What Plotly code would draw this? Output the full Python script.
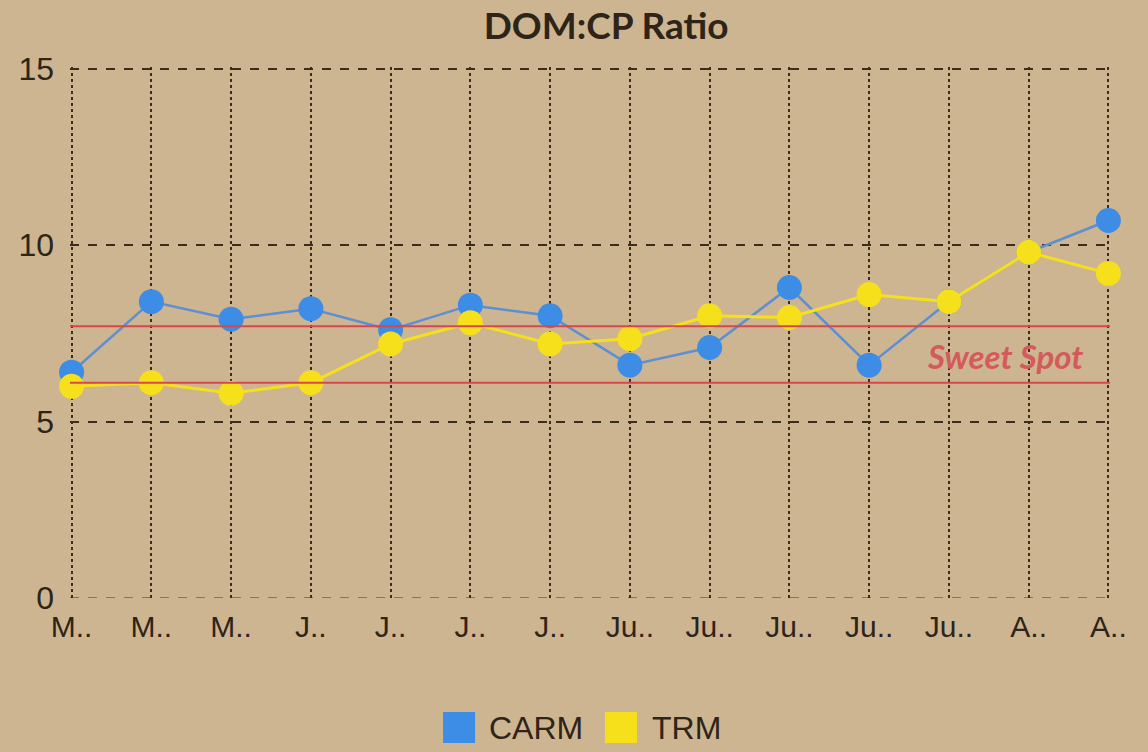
import plotly.graph_objects as go

# Dati
x_labels = ["M..", "M..", "M..", "J..", "J..", "J..", "J..",
            "Ju..", "Ju..", "Ju..", "Ju..", "Ju..", "A..", "A.."]
x_pos = list(range(len(x_labels)))

series_names = ["CARM", "TRM"]
carm = [6.4, 8.4, 7.9, 8.2, 7.6, 8.3, 8.0, 6.6, 7.1, 8.8, 6.6, 8.4, 9.8, 10.7]
trm = [6.0, 6.1, 5.8, 6.1, 7.2, 7.8, 7.2, 7.35, 8.0, 7.95, 8.6, 8.4, 9.8, 9.2]

sweet_low = 6.1
sweet_high = 7.7
sweet_label = "Sweet Spot"
sweet_label_x = 11.7
sweet_label_y = 6.85

y_ticks = [0, 5, 10, 15]

BG = "#cdb591"
BLUE = "#3d8de6"
BLUE_LINE = "#5d8fd2"
YELLOW = "#f6e01c"
RED = "#d8474a"
DARK = "#2e2418"
GRID = "#3a2d1e"

fig = go.Figure()

fig.add_trace(go.Scatter(
    x=x_pos, y=carm, mode="lines+markers", name=series_names[0],
    line=dict(color=BLUE_LINE, width=2.5),
    marker=dict(color=BLUE, size=25),
    cliponaxis=False, showlegend=False,
))
fig.add_trace(go.Scatter(
    x=x_pos, y=trm, mode="lines+markers", name=series_names[1],
    line=dict(color=YELLOW, width=3),
    marker=dict(color=YELLOW, size=25),
    cliponaxis=False, showlegend=False,
))

# linea di base (più chiara, tratteggiata)
fig.add_hline(y=y_ticks[0], line_color="#8a7558", line_width=2,
              line_dash="dash", layer="below")

# fascia "sweet spot"
for v in (sweet_low, sweet_high):
    fig.add_hline(y=v, line_color=RED, line_width=2, layer="above")

fig.add_annotation(
    x=sweet_label_x, y=sweet_label_y, text="<b><i>" + sweet_label + "</i></b>",
    showarrow=False, xref="x", yref="y",
    font=dict(family="Lato", size=33, color="#d45a5c"),
)

# legenda fatta a mano (quadrati grandi come nell'originale)
legend_items = [(series_names[0], BLUE, 0.3587, 0.401),
                (series_names[1], YELLOW, 0.5144, 0.5577)]
for name, col, sx, tx in legend_items:
    fig.add_shape(type="rect", xref="paper", yref="paper",
                  x0=sx, x1=sx + 0.0308, y0=-0.273, y1=-0.2147,
                  fillcolor=col, line_width=0)
    fig.add_annotation(x=tx, y=-0.2825, xref="paper", yref="paper",
                       text=name, showarrow=False, xanchor="left",
                       font=dict(family="Liberation Sans, Arial", size=32, color=DARK))

fig.update_layout(
    width=1148, height=752,
    paper_bgcolor=BG, plot_bgcolor=BG,
    margin=dict(l=70, r=38, t=67, b=154),
    title=dict(text="<b>DOM:CP Ratio</b>", x=0.528, xanchor="center",
               y=0.965, yanchor="middle",
               font=dict(family="Lato", size=37, color=DARK)),
    showlegend=False,
    font=dict(family="Liberation Sans, Arial", color=DARK),
)

fig.update_xaxes(
    range=[-0.02, len(x_labels) - 1 + 0.02],
    tickvals=x_pos, ticktext=x_labels,
    tickfont=dict(size=30, color=DARK),
    showgrid=True, gridcolor=GRID, gridwidth=2, griddash="dot",
    zeroline=False, showline=False, ticks="", ticklabelstandoff=8,
)
fig.update_yaxes(
    range=[0, 15.05], tickvals=y_ticks,
    tickfont=dict(size=32, color=DARK),
    showgrid=True, gridcolor=GRID, gridwidth=2, griddash="dash",
    zeroline=False, showline=False, ticks="", ticklabelstandoff=15,
)

fig.write_html("out.html", config={"displayModeBar": False},
               post_script="document.body.style.margin='0';"
                           "document.body.style.overflow='hidden';")
